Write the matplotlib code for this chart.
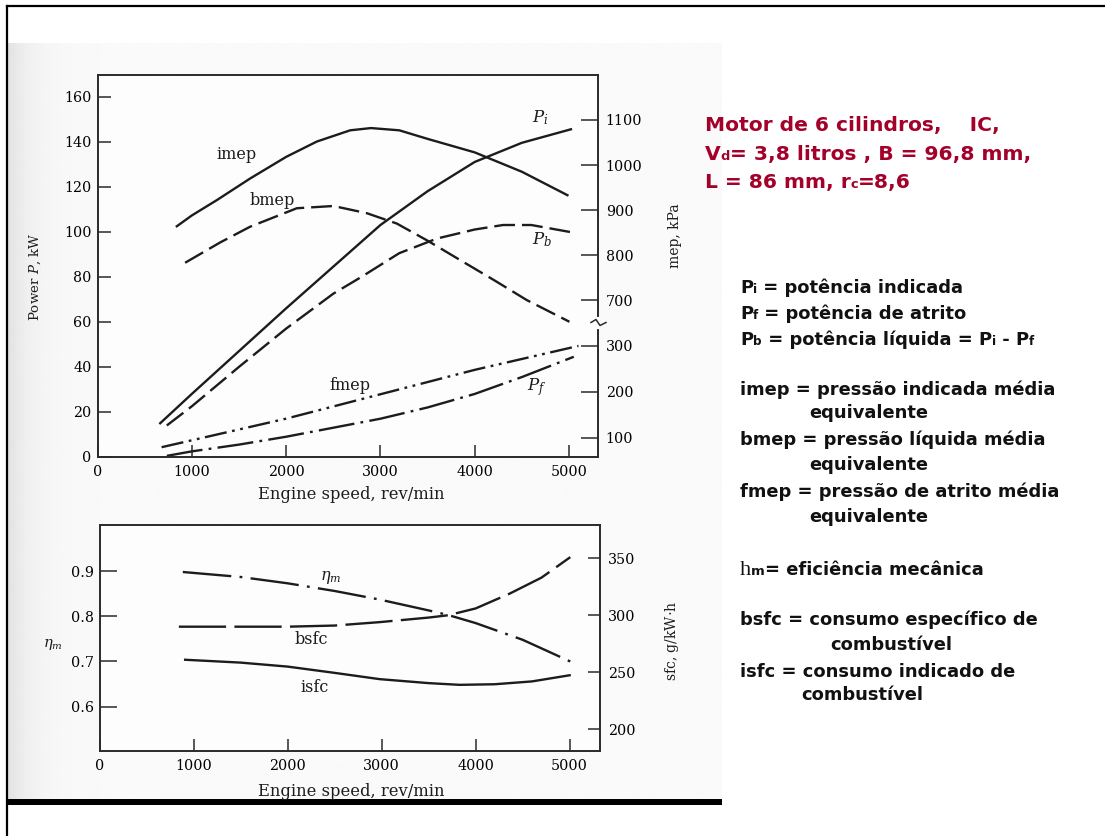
import numpy as np
import matplotlib
matplotlib.use("Agg")
import matplotlib.pyplot as plt
from matplotlib.patches import Rectangle
from matplotlib.lines import Line2D
from matplotlib.text import Annotation

plt.rcParams['lines.scale_dashes'] = False
plt.rcParams['mathtext.fontset'] = 'dejavuserif'
plt.rcParams['font.family'] = 'DejaVu Serif'

W, H, DPI = 1105, 836, 100

# ---------------- data (upper chart) ----------------
pi_rpm = [665, 1000, 1500, 2000, 2500, 3000, 3500, 4000, 4500, 5020]
pi_kw = [15, 28, 47, 66, 84.5, 103, 118, 131, 139.5, 145.5]
pb_rpm = [735, 1000, 1500, 2000, 2500, 2800, 3200, 3600, 4000, 4300, 4600, 5050]
pb_kw = [14, 22.5, 40, 57, 72.5, 80, 90.5, 97, 101, 103, 103, 99.6]
pf_rpm = [735, 1000, 1500, 2000, 2500, 3000, 3500, 4000, 4500, 5050]
pf_kw = [0.5, 2.5, 5.5, 9, 13, 17, 22, 28, 35.5, 44.5]
imep_rpm = [841, 1000, 1265, 1618, 2000, 2325, 2679, 2900, 3200, 3500, 4000, 4500, 4983]
imep_kpa = [864, 888, 922, 970, 1018, 1052, 1077, 1082, 1077, 1058, 1028, 985, 933]
bmep_rpm = [929, 1300, 1618, 2113, 2502, 2856, 3174, 3500, 3845, 4200, 4553, 5004]
bmep_kpa = [783, 828, 863, 904, 909, 893, 870, 832, 789, 745, 700, 652]
fmep_rpm = [680, 1000, 2000, 3000, 4000, 5100]
fmep_kpa = [80, 95, 142, 195, 248, 300]

power_ticks = [0, 20, 40, 60, 80, 100, 120, 140, 160]
mep_ticks_low = [100, 200, 300]
mep_ticks_high = [700, 800, 900, 1000, 1100]
speed_ticks = [0, 1000, 2000, 3000, 4000, 5000]

# ---------------- data (lower chart) ----------------
eta_rpm = [886, 1500, 2000, 2500, 2979, 3500, 3705, 4000, 4500, 5007]
eta_val = [0.898, 0.887, 0.873, 0.856, 0.837, 0.813, 0.803, 0.785, 0.748, 0.700]
bsfc_rpm = [844, 1500, 2000, 2500, 2979, 3500, 3705, 4000, 4362, 4700, 5007]
bsfc_val = [290, 290, 290, 291, 294, 298, 300, 306, 319, 333, 351]
isfc_rpm = [911, 1500, 2000, 2500, 2979, 3500, 3830, 4200, 4600, 5000]
isfc_val = [261, 258.5, 255, 249.5, 244, 240.5, 239, 239.5, 242, 247.4]
eta_ticks = [0.6, 0.7, 0.8, 0.9]
sfc_ticks = [200, 250, 300, 350]

# broken mep scale mapped onto the power axis
def mep_upper(m):
    return 69.64 + (np.asarray(m, dtype=float) - 700) * 0.2

def mep_lower(m):
    return 8.44 + (np.asarray(m, dtype=float) - 100) * 0.2044

ink = '#1c1c1c'
LW = 1.7
red = '#a3002a'

fig = plt.figure(figsize=(W / DPI, H / DPI), dpi=DPI)
fig.patch.set_facecolor('white')

# background (scanned page look) in pixel coordinates
bg = fig.add_axes([0, 0, 1, 1], zorder=-10)
bg.set_xlim(0, W); bg.set_ylim(H, 0); bg.axis('off')
xs = np.linspace(7, 722, 716)
col = 0.978 - 0.10 * np.exp(-(xs - 7) / 22.0)
bg.imshow(np.tile(col, (8, 1)), extent=(7, 722, 799, 43), cmap='gray', vmin=0, vmax=1,
          aspect='auto', interpolation='bilinear')
bg.add_patch(Rectangle((7, 799), 715, 5.5, color='black', lw=0))
bg.plot([7, 7], [6, 836], color='black', lw=1.6)
bg.plot([7, 1105], [6, 6], color='black', lw=1.6)


def px_axes(l, t, r, b):
    return fig.add_axes([l / W, (H - b) / H, (r - l) / W, (b - t) / H])


def style(a):
    a.set_facecolor('#fdfdfd')
    for s in a.spines.values():
        s.set_linewidth(1.2)
        s.set_color('#2a2a2a')


# ---------------- upper chart ----------------
ax = px_axes(97.5, 75, 598, 457)
style(ax)
ax.set_xlim(0, 5307)
ax.set_ylim(0, 169.6)
ax.plot(pi_rpm, pi_kw, color=ink, lw=LW)
ax.plot(pb_rpm, pb_kw, color=ink, lw=LW, ls=(0, (15, 5)))
ax.plot(pf_rpm, pf_kw, color=ink, lw=LW, ls=(0, (26, 4.5, 2, 4.5)))
ax.set_xticks(speed_ticks)
ax.set_xticklabels([str(v) for v in speed_ticks])
ax.set_yticks(power_ticks)
ax.set_yticklabels([str(v) for v in power_ticks])
ax.tick_params(axis='both', direction='in', width=1.1, color='#2a2a2a', labelsize=10.3)
ax.tick_params(axis='y', length=9.5, pad=4.3)
ax.tick_params(axis='x', length=8.6, pad=6)

ax2 = ax.twinx()
ax2.set_ylim(ax.get_ylim())
ax2.plot(imep_rpm, mep_upper(imep_kpa), color=ink, lw=LW)
ax2.plot(bmep_rpm, mep_upper(bmep_kpa), color=ink, lw=LW, ls=(0, (15, 5)))
ax2.plot(fmep_rpm, mep_lower(fmep_kpa), color=ink, lw=LW, ls=(0, (16, 4, 2, 4, 2, 4)))
ax2.set_yticks(list(mep_lower(mep_ticks_low)) + list(mep_upper(mep_ticks_high)))
ax2.set_yticklabels([str(v) for v in mep_ticks_low + mep_ticks_high])
ax2.tick_params(axis='y', direction='in', length=12, width=1.1, color='#2a2a2a',
                labelsize=10.3, pad=5.5)
for s in ax2.spines.values():
    s.set_linewidth(1.2); s.set_color('#2a2a2a')

# curve labels
ax.text(1477, 134.1, 'imep', fontsize=11.5, ha='center', va='center', color=ink)
ax.text(1848, 113.8, 'bmep', fontsize=11.5, ha='center', va='center', color=ink)
ax.text(2678, 31.9, 'fmep', fontsize=11.5, ha='center', va='center', color=ink)
ax.text(4692, 150.5, '$P_i$', fontsize=12, ha='center', va='center', color=ink)
ax.text(4710, 96.3, '$P_b$', fontsize=12, ha='center', va='center', color=ink)
ax.text(4657, 31.1, '$P_f$', fontsize=12, ha='center', va='center', color=ink)

# axis break marker on the mep axis
fig.add_artist(Line2D([598, 598], [318.5, 326.5], color='#fdfdfd', lw=3, transform=bg.transData))
fig.add_artist(Line2D([591, 596, 600, 606], [322.5, 319.5, 325.5, 322.5], color='#2a2a2a',
                      lw=1.1, transform=bg.transData))

fig.text(351.7 / W, 1 - 495 / H, 'Engine speed, rev/min', fontsize=11.8, ha='center',
         va='center', color=ink)
fig.text(35 / W, 1 - 277 / H, 'Power $P$, kW', fontsize=9.6, rotation=90, ha='center',
         va='center', color=ink)
fig.text(675 / W, 1 - 236 / H, 'mep, kPa', fontsize=10, rotation=90, ha='center',
         va='center', color=ink)

# ---------------- lower chart ----------------
ax3 = px_axes(99.5, 525, 600, 750.5)
style(ax3)
ax3.set_xlim(0, 5323)
ax3.set_ylim(0.503, 1.002)
ax3.plot(eta_rpm, eta_val, color=ink, lw=LW, ls=(0, (35, 6, 2, 6)))
ax3.set_xticks(speed_ticks)
ax3.set_xticklabels([str(v) for v in speed_ticks])
ax3.set_yticks(eta_ticks)
ax3.set_yticklabels([f'{v:.1f}' for v in eta_ticks])
ax3.tick_params(axis='both', direction='in', width=1.1, color='#2a2a2a', labelsize=10.3)
ax3.tick_params(axis='y', length=12, pad=4.3)
ax3.tick_params(axis='x', length=8.6, pad=6)

ax4 = ax3.twinx()
ax4.set_ylim(181.4, 379.2)
ax4.plot(bsfc_rpm, bsfc_val, color=ink, lw=LW, ls=(0, (34, 6)))
ax4.plot(isfc_rpm, isfc_val, color=ink, lw=LW)
ax4.set_yticks(sfc_ticks)
ax4.set_yticklabels([str(v) for v in sfc_ticks])
ax4.tick_params(axis='y', direction='in', length=9, width=1.1, color='#2a2a2a',
                labelsize=10.3, pad=5.5)
for s in ax4.spines.values():
    s.set_linewidth(1.2); s.set_color('#2a2a2a')

ax3.text(2461, 0.886, r'$\eta_m$', fontsize=11.5, ha='center', va='center', color=ink)
ax3.text(2248, 0.749, 'bsfc', fontsize=11.5, ha='center', va='center', color=ink)
ax3.text(2283, 0.643, 'isfc', fontsize=11.5, ha='center', va='center', color=ink)

fig.text(351.7 / W, 1 - 791 / H, 'Engine speed, rev/min', fontsize=11.8, ha='center',
         va='center', color=ink)
fig.text(53 / W, 1 - 644 / H, r'$\eta_m$', fontsize=10.5, ha='center', va='center', color=ink)
fig.text(672 / W, 1 - 641 / H, 'sfc, g/kW$\\cdot$h', fontsize=10, rotation=90, ha='center',
         va='center', color=ink)


# ---------------- right-hand text ----------------
def chain(pieces, x, y_base, color):
    prev = None
    for s, size, fam, wt in pieces:
        kw = dict(fontsize=size, family=fam, fontweight=wt, color=color,
                  ha='left', va='baseline')
        if prev is None:
            t = fig.text(x / W, 1 - y_base / H, s, **kw)
        else:
            t = Annotation(s, xy=(1, H - y_base), xycoords=(prev, 'figure pixels'), **kw)
            fig.add_artist(t)
        prev = t


SANS = 'DejaVu Sans'
BIG, SUB = 14.6, 9.4
chain([('Motor de 6 cilindros,    IC,', BIG, SANS, 'bold')], 705, 130.7, red)
chain([('V', BIG, SANS, 'bold'), ('d', SUB, SANS, 'bold'),
       ('= 3,8 litros , B = 96,8 mm,', BIG, SANS, 'bold')], 705, 160, red)
chain([('L = 86 mm, r', BIG, SANS, 'bold'), ('c', SUB, SANS, 'bold'),
       ('=8,6', BIG, SANS, 'bold')], 705, 188.3, red)

T, S = 12.9, 8.6
blk = '#111111'
chain([('P', T, SANS, 'bold'), ('i', S, SANS, 'bold'), (' = potência indicada', T, SANS, 'bold')],
      740, 293.3, blk)
chain([('P', T, SANS, 'bold'), ('f', S, SANS, 'bold'), (' = potência de atrito', T, SANS, 'bold')],
      740, 319.3, blk)
chain([('P', T, SANS, 'bold'), ('b', S, SANS, 'bold'), (' = potência líquida = P', T, SANS, 'bold'),
       ('i', S, SANS, 'bold'), (' - P', T, SANS, 'bold'), ('f', S, SANS, 'bold')],
      740, 345, blk)
chain([('imep = pressão indicada média', T, SANS, 'bold')], 740, 395, blk)
chain([('equivalente', T, SANS, 'bold')], 809, 418.3, blk)
chain([('bmep = pressão líquida média', T, SANS, 'bold')], 740, 445, blk)
chain([('equivalente', T, SANS, 'bold')], 809, 470, blk)
chain([('fmep = pressão de atrito média', T, SANS, 'bold')], 740, 496.7, blk)
chain([('equivalente', T, SANS, 'bold')], 809, 521.7, blk)
chain([('h', 16, 'Liberation Serif', 'normal'), ('m', 9.5, SANS, 'bold'),
       ('= eficiência mecânica', T, SANS, 'bold')], 740, 575, blk)
chain([('bsfc = consumo específico de', T, SANS, 'bold')], 740, 625, blk)
chain([('combustível', T, SANS, 'bold')], 830, 650, blk)
chain([('isfc = consumo indicado de', T, SANS, 'bold')], 740, 676.7, blk)
chain([('combustível', T, SANS, 'bold')], 801.7, 700, blk)

fig.savefig('out.png', dpi=DPI)
